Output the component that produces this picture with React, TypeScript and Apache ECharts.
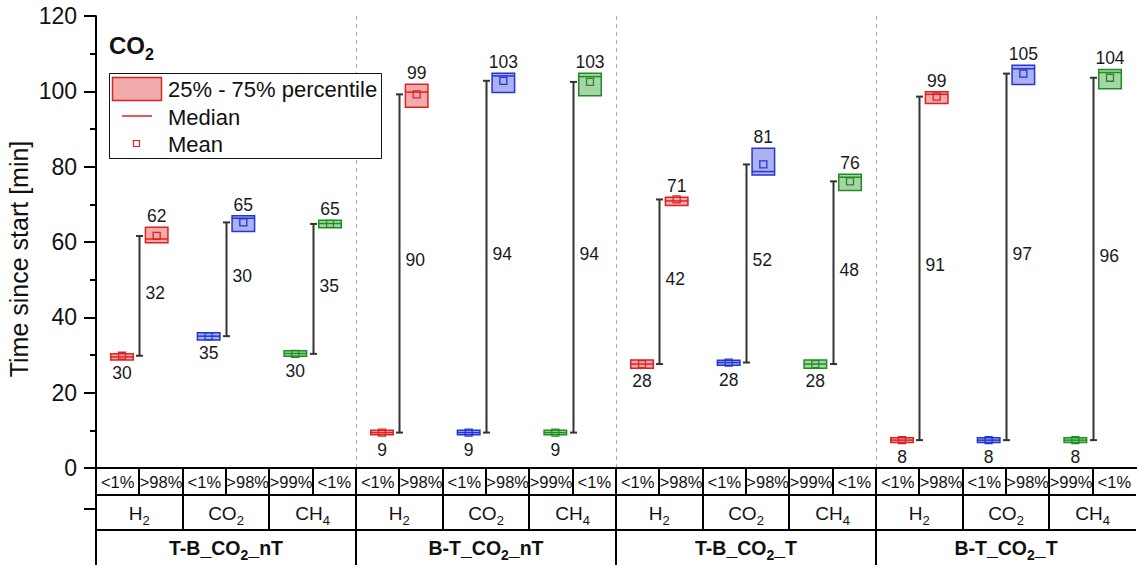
import React, { useEffect, useRef } from 'react';
import * as echarts from 'echarts';

const FONT = 'Arial, "Liberation Sans", sans-serif';

const groupNames = ['T-B_CO2_nT', 'B-T_CO2_nT', 'T-B_CO2_T', 'B-T_CO2_T'];
const gasNames = ['H2', 'CO2', 'CH4'];
const percentLabels = ['<1%', '>98%', '<1%', '>98%', '>99%', '<1%'];
const gasColors = ['#dd2222', '#2235d6', '#1e8f1e'];
const gasFills = ['rgba(221,34,34,0.38)', 'rgba(34,53,214,0.38)', 'rgba(30,143,30,0.38)'];
const yTicks = [0, 20, 40, 60, 80, 100, 120];

// per slot (24 slots = 4 groups x 3 gases x 2 states)
const q1Values = [
  28.7, 59.8, 34.0, 62.8, 29.7, 63.8,
  8.8, 95.8, 8.8, 99.7, 8.8, 98.8,
  26.5, 69.7, 27.3, 77.8, 26.5, 73.7,
  6.8, 96.8, 6.8, 101.8, 6.8, 100.7,
];
const q3Values = [
  30.3, 63.9, 35.9, 67.0, 31.1, 65.8,
  10.0, 101.9, 10.0, 104.8, 10.0, 104.8,
  28.7, 71.9, 28.6, 84.9, 28.7, 78.0,
  8.0, 99.9, 8.0, 106.9, 8.0, 105.8,
];
const medianValues = [
  29.5, 60.8, 35.0, 66.3, 30.4, 64.9,
  9.4, 99.8, 9.4, 104.1, 9.4, 103.9,
  27.6, 70.9, 28.0, 78.7, 27.6, 77.2,
  7.4, 99.2, 7.4, 106.0, 7.4, 105.0,
];
const meanValues = [
  29.8, 61.6, 35.0, 65.2, 30.3, 64.8,
  9.4, 99.2, 9.4, 102.8, 9.4, 102.5,
  27.6, 71.3, 28.0, 80.6, 27.6, 76.1,
  7.4, 98.6, 7.4, 104.7, 7.4, 103.6,
];

// per pair (12)
const lowLabels = [30, 35, 30, 9, 9, 9, 28, 28, 28, 8, 8, 8];
const highLabels = [62, 65, 65, 99, 103, 103, 71, 81, 76, 99, 105, 104];
const diffLabels = [32, 30, 35, 90, 94, 94, 42, 52, 48, 91, 97, 96];

const sub = (s: string) => s.replace(/([A-Z])(\d)/g, '$1{s|$2}');

const W = 1138;
const H = 565;
const GL = 96;
const GR = 2;
const GT = 16;
const GB = 97;
const PW = W - GL - GR;
const SW = PW / 24;
const Y0 = H - GB;

export default function App() {
  const ref = useRef<HTMLDivElement>(null);
  useEffect(() => {
    if (!ref.current) return;
    const chart = echarts.init(ref.current, undefined, { renderer: 'svg' });

    const boxData = q1Values.map((q, i) => [i, q, q3Values[i], medianValues[i], meanValues[i]]);
    const pairData = lowLabels.map((_, p) => [
      2 * p + 1,
      meanValues[2 * p],
      meanValues[2 * p + 1],
      q3Values[2 * p + 1],
      lowLabels[p],
      highLabels[p],
      diffLabels[p],
    ]);

    const boxCenter = (i: number) => i + 0.5 + (i % 2 === 0 ? 0.1 : -0.1);

    const graphics: any[] = [];
    const line = (x1: number, y1: number, x2: number, y2: number, w = 2) =>
      graphics.push({ type: 'line', z: 100, shape: { x1, y1, x2, y2 }, style: { stroke: '#000', lineWidth: w } });
    const R1 = Y0 + 27;
    const R2 = Y0 + 62;
    line(GL - 12, Y0, W - GR, Y0);
    line(GL, R1, W - GR, R1);
    line(GL, R2, W - GR, R2);
    line(GL, GT, GL, H);
    line(GL - 12, Y0 + 41, GL, Y0 + 41);
    for (let i = 1; i < 24; i++) {
      const x = Math.round(GL + i * SW);
      const bottom = i % 6 === 0 ? H : i % 2 === 0 ? R2 : R1;
      line(x, Y0, x, bottom);
    }
    for (let i = 0; i < 24; i++) {
      graphics.push({
        type: 'text', z: 100,
        x: GL + (i + 0.5) * SW, y: Y0 + 14,
        style: { text: percentLabels[i % 6], fontSize: 16.5, fontFamily: FONT, fill: '#111', align: 'center', verticalAlign: 'middle' },
      });
    }
    for (let g = 0; g < 12; g++) {
      graphics.push({
        type: 'text', z: 100,
        x: GL + (g * 2 + 1) * SW, y: Y0 + 45,
        style: {
          text: sub(gasNames[g % 3]), fontSize: 19, fontFamily: FONT, fill: '#111', align: 'center', verticalAlign: 'middle',
          lineHeight: 28,
          rich: { s: { fontSize: 13, fontFamily: FONT, fill: '#111', verticalAlign: 'bottom', lineHeight: 14 } },
        },
      });
    }
    for (let g = 0; g < 4; g++) {
      graphics.push({
        type: 'text', z: 100,
        x: GL + (g * 6 + 3) * SW, y: R2 + 18,
        style: {
          text: sub(groupNames[g]), fontSize: 19.5, fontWeight: 'bold', fontFamily: FONT, fill: '#111', align: 'center', verticalAlign: 'middle',
          lineHeight: 28,
          rich: { s: { fontSize: 14, fontWeight: 'bold', fontFamily: FONT, fill: '#111', verticalAlign: 'bottom', lineHeight: 14 } },
        },
      });
    }
    // y axis title
    graphics.push({
      type: 'text', z: 100, x: 19, y: 259, rotation: Math.PI / 2,
      style: { text: 'Time since start [min]', fontSize: 25, fontFamily: FONT, fill: '#111', align: 'center', verticalAlign: 'middle' },
    });
    // title
    graphics.push({
      type: 'text', z: 100, x: 109, y: 45,
      style: {
        text: 'CO{s|2}', fontSize: 24, fontWeight: 'bold', fontFamily: FONT, fill: '#111', align: 'left', verticalAlign: 'middle',
        lineHeight: 34,
        rich: { s: { fontSize: 16, fontWeight: 'bold', fontFamily: FONT, fill: '#111', verticalAlign: 'bottom', lineHeight: 16 } },
      },
    });
    // legend
    graphics.push({ type: 'rect', z: 100, shape: { x: 109.5, y: 73.5, width: 272, height: 85 }, style: { fill: '#fff', stroke: '#111', lineWidth: 1 } });
    graphics.push({ type: 'rect', z: 101, shape: { x: 112.5, y: 77.5, width: 49, height: 23 }, style: { fill: gasFills[0], stroke: gasColors[0], lineWidth: 1.5 } });
    graphics.push({ type: 'line', z: 101, shape: { x1: 122, y1: 116, x2: 152, y2: 116 }, style: { stroke: gasColors[0], lineWidth: 1.5 } });
    graphics.push({ type: 'rect', z: 101, shape: { x: 133.5, y: 140.5, width: 6, height: 6 }, style: { fill: 'none', stroke: gasColors[0], lineWidth: 1.2 } });
    const legText = ['25% - 75% percentile', 'Median', 'Mean'];
    const legY = [89, 117, 144];
    legText.forEach((t, k) =>
      graphics.push({
        type: 'text', z: 101, x: 168, y: legY[k],
        style: { text: t, fontSize: 22, fontFamily: FONT, fill: '#111', align: 'left', verticalAlign: 'middle' },
      })
    );

    const option: any = {
      animation: false,
      grid: { left: GL, right: GR, top: GT, bottom: GB, containLabel: false },
      xAxis: [
        {
          type: 'value', min: 0, max: 24, interval: 6, position: 'bottom',
          axisLine: { show: true, lineStyle: { color: '#000', width: 2 } },
          axisTick: { show: false }, axisLabel: { show: false },
          splitLine: { show: true, showMinLine: false, showMaxLine: false, lineStyle: { type: [4, 4], color: '#aaa', width: 1 } },
        },
        {
          type: 'value', min: 0, max: 24, position: 'top',
          axisLine: { show: true, lineStyle: { color: '#000', width: 2 } },
          axisTick: { show: false }, axisLabel: { show: false }, splitLine: { show: false },
        },
      ],
      yAxis: [
        {
          type: 'value', min: 0, max: 120, interval: 20,
          axisLine: { show: true, lineStyle: { color: '#000', width: 2 } },
          axisTick: { show: true, inside: false, length: 12, lineStyle: { color: '#000', width: 2 } },
          minorTick: { show: true, splitNumber: 2, length: 6, lineStyle: { color: '#000', width: 2 } },
          axisLabel: {
            fontSize: 23, color: '#111', fontFamily: FONT, margin: 19,
            formatter: (v: number) => (yTicks.includes(v) ? String(v) : ''),
          },
          splitLine: { show: false },
        },
        {
          type: 'value', min: 0, max: 120, position: 'right',
          axisLine: { show: true, lineStyle: { color: '#999', width: 1 } },
          axisTick: { show: false }, axisLabel: { show: false }, splitLine: { show: false },
        },
      ],
      graphic: graphics,
      series: [
        {
          type: 'custom', name: 'whiskers', xAxisIndex: 0, yAxisIndex: 0, clip: false, z: 3,
          data: pairData,
          encode: { x: 0, y: [1, 2] },
          renderItem: (params: any, api: any) => {
            const bx = api.value(0);
            const pl = api.coord([bx, api.value(1)]);
            const ph = api.coord([bx, api.value(2)]);
            const pq3 = api.coord([boxCenter(bx), api.value(3)]);
            const pLowBox = api.coord([boxCenter(bx - 1), api.value(1)]);
            const x = Math.round(pl[0]) + 0.5;
            const st = { stroke: '#333', lineWidth: 2 };
            const tx = (t: string, X: number, Y: number, align: string) => ({
              type: 'text', x: X, y: Y,
              style: { text: t, fontSize: 17.5, fontFamily: FONT, fill: '#1a1a1a', align, verticalAlign: 'middle' },
            });
            return {
              type: 'group',
              children: [
                { type: 'line', shape: { x1: x, y1: pl[1], x2: x, y2: ph[1] }, style: st },
                { type: 'line', shape: { x1: x - 3.5, y1: pl[1], x2: x + 3.5, y2: pl[1] }, style: st },
                { type: 'line', shape: { x1: x - 3.5, y1: ph[1], x2: x + 3.5, y2: ph[1] }, style: st },
                tx(String(api.value(4)), pLowBox[0], pLowBox[1] + 17, 'center'),
                tx(String(api.value(5)), pq3[0], pq3[1] - 11, 'center'),
                tx(String(api.value(6)), x + 6, (pl[1] + ph[1]) / 2 - 3, 'left'),
              ],
            };
          },
        },
        {
          type: 'custom', name: 'boxes', xAxisIndex: 0, yAxisIndex: 0, clip: false, z: 4,
          data: boxData,
          encode: { x: 0, y: [1, 2, 3, 4] },
          renderItem: (params: any, api: any) => {
            const i = api.value(0);
            const gas = Math.floor((i % 6) / 2);
            const cx = boxCenter(i);
            const a = api.coord([cx - 0.26, api.value(2)]);
            const b = api.coord([cx + 0.26, api.value(1)]);
            const m = api.coord([cx, api.value(3)]);
            const mn = api.coord([cx, api.value(4)]);
            const col = gasColors[gas];
            return {
              type: 'group',
              children: [
                { type: 'rect', shape: { x: a[0], y: a[1], width: b[0] - a[0], height: b[1] - a[1] }, style: { fill: gasFills[gas], stroke: col, lineWidth: 1.5 } },
                { type: 'line', shape: { x1: a[0], y1: m[1], x2: b[0], y2: m[1] }, style: { stroke: col, lineWidth: 1.5 } },
                { type: 'rect', shape: { x: mn[0] - 3.5, y: mn[1] - 3.5, width: 7, height: 7 }, style: { fill: 'none', stroke: col, lineWidth: 1.3 } },
              ],
            };
          },
        },
      ],
    };
    chart.setOption(option);
    return () => chart.dispose();
  }, []);
  return <div ref={ref} style={{ width: W, height: H, position: 'absolute', left: 0, top: 0, background: '#fff' }} />;
}
